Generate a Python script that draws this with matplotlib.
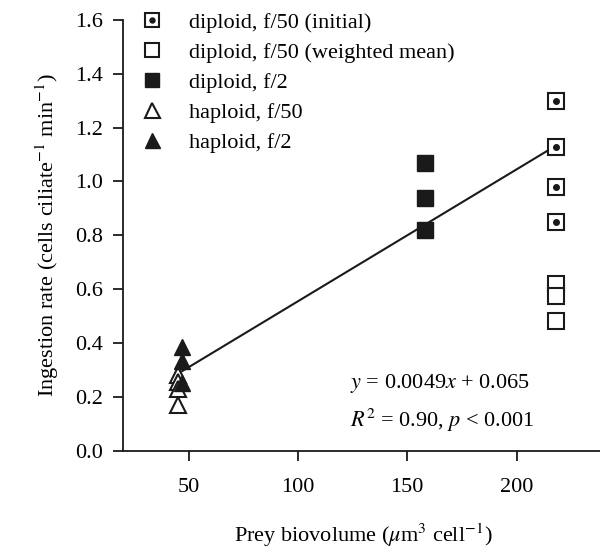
import matplotlib
matplotlib.use("Agg")
import matplotlib.pyplot as plt
from matplotlib.legend_handler import HandlerTuple
import numpy as np

plt.rcParams['font.family'] = ['Liberation Serif', 'DejaVu Serif']
plt.rcParams['mathtext.fontset'] = 'stix'
plt.rcParams['font.size'] = 16

# data
dip50_init_x = [218, 218, 218, 218]
dip50_init_y = [1.30, 1.13, 0.98, 0.85]
dip50_wm_x = [218, 218, 218]
dip50_wm_y = [0.62, 0.575, 0.48]
dip2_x = [158, 158, 158]
dip2_y = [1.07, 0.94, 0.82]
hap50_x = [45, 45, 45, 45]
hap50_y = [0.28, 0.255, 0.23, 0.17]
hap2_x = [47, 47, 47]
hap2_y = [0.385, 0.335, 0.25]

slope, intercept = 0.0049, 0.065
fit_x = [47, 218]

fig = plt.figure(figsize=(6, 5.58), dpi=100)
ax = fig.add_axes([0.205, 0.1923, 0.8017, 0.7719])

ms = 11
k = '#1a1a1a'
fit_y = [slope * v + intercept for v in fit_x]
ax.plot(fit_x, fit_y, color=k, lw=1.5, zorder=2)

h1a, = ax.plot(dip50_init_x, dip50_init_y, 's', ms=ms, mfc='white', mec=k, mew=1.5, zorder=3)
h1b, = ax.plot(dip50_init_x, dip50_init_y, 'o', ms=4, mfc=k, mec=k, zorder=4)
h2, = ax.plot(dip50_wm_x, dip50_wm_y, 's', ms=ms, mfc='white', mec=k, mew=1.5, zorder=3)
h3, = ax.plot(dip2_x, dip2_y, 's', ms=ms, mfc=k, mec=k, zorder=3)
h4, = ax.plot(hap50_x, hap50_y, '^', ms=ms + 1, mfc='white', mec=k, mew=1.5, zorder=3)
h5, = ax.plot(hap2_x, hap2_y, '^', ms=ms + 1, mfc=k, mec=k, zorder=3)

ax.set_xlim(20, 240)
ax.set_ylim(0, 1.6)
ax.set_xticks([50, 100, 150, 200])
ax.set_yticks(np.arange(0, 1.61, 0.2))
ax.yaxis.set_major_formatter(matplotlib.ticker.FormatStrFormatter('%.1f'))
for s in ['top', 'right']:
    ax.spines[s].set_visible(False)
for s in ['left', 'bottom']:
    ax.spines[s].set_linewidth(1.3)
    ax.spines[s].set_color(k)
ax.tick_params(direction='out', length=7.5, width=1.3, color=k)
ax.tick_params(axis='y', pad=7)
ax.tick_params(axis='x', pad=12)

ax.set_ylabel('Ingestion rate (cells ciliate$^{-1}$ min$^{-1}$)', labelpad=10)
ax.set_xlabel(r'Prey biovolume ($\mu$m$^{3}$ cell$^{-1}$)', labelpad=18)

ax.text(0.472, 0.157, '$y$ = 0.0049$x$ + 0.065', transform=ax.transAxes, va='center')
ax.text(0.472, 0.071, '$R^2$ = 0.90, $p$ < 0.001', transform=ax.transAxes, va='center')

ax.legend([(h1a, h1b), h2, h3, h4, h5],
          ['diploid, f/50 (initial)', 'diploid, f/50 (weighted mean)', 'diploid, f/2',
           'haploid, f/50', 'haploid, f/2'],
          handler_map={tuple: HandlerTuple(ndivide=1, pad=0)},
          loc='upper left', bbox_to_anchor=(-0.005, 1.064), frameon=False,
          handlelength=1.0, handletextpad=1.2, labelspacing=0.42, markerscale=0.9)

fig.savefig('out.png', dpi=100)
